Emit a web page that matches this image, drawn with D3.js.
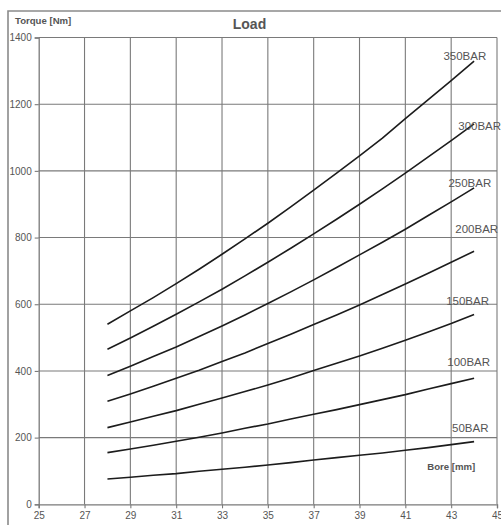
<!DOCTYPE html>
<html>
<head>
<meta charset="utf-8">
<script src="https://cdn.jsdelivr.net/npm/d3@7"></script>
<style>
  html, body { margin: 0; padding: 0; background: #fff; }
  svg { display: block; font-family: "Liberation Sans", Arial, sans-serif; }
</style>
</head>
<body>
<svg id="chart" width="501" height="525"></svg>
<script>
// Bore diameters [mm]
const bores = [28, 29, 30, 31, 32, 33, 34, 35, 36, 37, 38, 39, 40, 41, 42, 43, 44];

// Torque [Nm] per pressure level
const t50  = [76, 81, 87, 92, 99, 105, 111, 118, 125, 133, 140, 147, 154, 162, 170, 179, 188];
const t100 = [155, 166, 177, 189, 201, 214, 228, 241, 256, 270, 284, 299, 314, 329, 346, 362, 378];
const t150 = [230, 247, 264, 281, 300, 319, 338, 358, 379, 401, 423, 445, 468, 492, 517, 542, 569];
const t200 = [309, 331, 354, 378, 402, 428, 454, 482, 510, 539, 568, 598, 629, 661, 693, 726, 759];
const t250 = [386, 414, 443, 472, 503, 535, 568, 602, 637, 673, 710, 748, 786, 825, 866, 907, 949];
const t300 = [465, 499, 534, 570, 607, 645, 685, 726, 768, 811, 855, 900, 946, 993, 1042, 1091, 1141];
const t350 = [540, 580, 620, 662, 705, 750, 796, 843, 892, 942, 993, 1045, 1098, 1157, 1214, 1271, 1329];

const seriesNames = ["50BAR", "100BAR", "150BAR", "200BAR", "250BAR", "300BAR", "350BAR"];
const seriesValues = [t50, t100, t150, t200, t250, t300, t350];

// Label anchors in data units [bore, torque]
const labelAnchors = [[43.04, 216], [42.83, 416], [42.78, 599], [43.18, 815], [42.88, 952], [43.31, 1124], [42.66, 1334]];

const xTicks = [25, 27, 29, 31, 33, 35, 37, 39, 41, 43, 45];
const yTicks = [0, 200, 400, 600, 800, 1000, 1200, 1400];

const svg = d3.select("#chart");
const gridColor = "#7a7a7a";
const textColor = "#555";

const x = d3.scaleLinear().domain([25, 45]).range([38.7, 497]);
const y = d3.scaleLinear().domain([0, 1400]).range([504.3, 37.5]);

// outer frame
svg.append("path")
  .attr("d", "M8,525.5 V11 H501")
  .attr("fill", "none")
  .attr("stroke", "#8a8a8a")
  .attr("stroke-width", 1.6);

// grid
const grid = svg.append("g").attr("stroke", gridColor).attr("stroke-width", 1.1);
grid.selectAll(".vg").data(xTicks.slice(1)).join("line")
  .attr("x1", d => x(d)).attr("x2", d => x(d))
  .attr("y1", y(1400)).attr("y2", y(0));
grid.selectAll(".hg").data(yTicks.slice(1)).join("line")
  .attr("x1", x(25)).attr("x2", x(45))
  .attr("y1", d => y(d)).attr("y2", d => y(d));

// axes
const yAxis = svg.append("g")
  .attr("transform", `translate(${x(25)},0)`)
  .call(d3.axisLeft(y).tickValues(yTicks).tickSize(4).tickPadding(3).tickFormat(d3.format("d")));
const xAxis = svg.append("g")
  .attr("transform", `translate(0,${y(0)})`)
  .call(d3.axisBottom(x).tickValues(xTicks).tickSize(4).tickPadding(4).tickFormat(d3.format("d")));
[yAxis, xAxis].forEach(a => {
  a.select(".domain").attr("stroke", gridColor).attr("stroke-width", 1.3);
  a.selectAll(".tick line").attr("stroke", gridColor).attr("stroke-width", 1.1);
  a.selectAll(".tick text").attr("fill", textColor)
    .style("font-size", "10px").style("font-family", "Liberation Sans, Arial, sans-serif");
});

// series lines
const line = d3.line().x((d, i) => x(bores[i])).y(d => y(d));
svg.append("g").selectAll("path").data(seriesValues).join("path")
  .attr("d", d => line(d))
  .attr("fill", "none")
  .attr("stroke", "#1c1c1c")
  .attr("stroke-width", 1.6)
  .attr("stroke-linejoin", "round");

// series labels
svg.append("g").selectAll("text").data(seriesNames).join("text")
  .attr("x", (d, i) => x(labelAnchors[i][0]))
  .attr("y", (d, i) => y(labelAnchors[i][1]))
  .attr("fill", textColor)
  .style("font-size", "11.5px")
  .text(d => d);

// titles
svg.append("text")
  .attr("x", 249.5).attr("y", 29)
  .attr("text-anchor", "middle")
  .attr("fill", textColor)
  .style("font-size", "14px").style("font-weight", "bold")
  .text("Load");
svg.append("text")
  .attr("x", 15).attr("y", 23.5)
  .attr("fill", textColor)
  .style("font-size", "9.6px").style("font-weight", "bold")
  .text("Torque [Nm]");
svg.append("text")
  .attr("x", x(41.96)).attr("y", y(103))
  .attr("fill", textColor)
  .style("font-size", "9.6px").style("font-weight", "bold")
  .text("Bore [mm]");
</script>
</body>
</html>
